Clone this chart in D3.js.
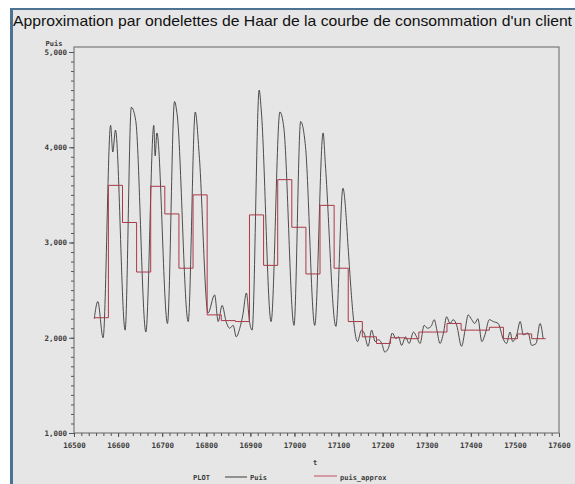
<!DOCTYPE html>
<html>
<head>
<meta charset="utf-8">
<script src="https://cdn.jsdelivr.net/npm/d3@7"></script>
<style>
  body { margin: 0; background: #fff; }
  .tick text { font-family: "DejaVu Sans Mono", monospace; font-weight: bold; font-size: 7.5px; fill: #3c3c3c; }
  .tick line { stroke: #555; }
  .lbl { font-family: "DejaVu Sans Mono", monospace; font-weight: bold; font-size: 7px; fill: #3c3c3c; }
</style>
</head>
<body>
<div id="chart"></div>
<script>

// courbe de consommation (t, Puis)
var tPuis = [16546, 16554, 16566, 16583, 16588, 16594, 16616, 16630, 16640, 16663,
  16681, 16684, 16688, 16712, 16728, 16734, 16759, 16775, 16784, 16804,
  16819, 16827, 16836, 16845, 16853, 16861, 16868, 16876, 16883, 16891,
  16898, 16904, 16920, 16925, 16947, 16967, 16976, 16999, 17014, 17025,
  17046, 17065, 17070, 17094, 17110, 17118, 17121, 17143, 17152, 17158,
  17167, 17175, 17183, 17190, 17198, 17205, 17213, 17222, 17230, 17236,
  17243, 17252, 17260, 17270, 17277, 17285, 17294, 17302, 17310, 17317,
  17323, 17330, 17338, 17345, 17353, 17360, 17368, 17379, 17387, 17394,
  17402, 17409, 17416, 17425, 17432, 17442, 17451, 17462, 17474, 17481,
  17489, 17495, 17504, 17512, 17519, 17530, 17538, 17548, 17557, 17564];

var vPuis = [2200, 2380, 2000, 4230, 3950, 4180, 2080, 4420, 4280, 2060,
  4230, 3910, 4150, 2150, 4480, 4340, 2170, 4370, 3920, 2260,
  2450, 2170, 2340, 2170, 2100, 2130, 2010, 2100, 2240, 2470,
  2170, 2080, 4600, 4370, 2170, 4370, 4200, 2130, 4270, 4010,
  2130, 4150, 3830, 2120, 3570, 3220, 3000, 1960, 2080, 2050,
  1910, 2080, 1960, 1980, 1940, 1850, 1890, 2050, 1990, 2010,
  1920, 2010, 1940, 2060, 2010, 1940, 2130, 2100, 2120, 2190,
  2080, 1940, 2050, 2220, 2150, 2190, 2130, 1910, 2080, 2240,
  2190, 2150, 2200, 1960, 2030, 2190, 2170, 2150, 1980, 1940,
  2060, 1960, 2030, 2170, 2030, 2050, 1920, 1940, 2150, 1990];

// approximation de Haar (paliers)
var tApprox = [16546, 16578, 16610, 16642, 16674, 16706, 16738, 16770, 16802, 16834,
  16866, 16898, 16930, 16962, 16994, 17026, 17058, 17090, 17122, 17154,
  17186, 17218, 17250, 17282, 17314, 17346, 17378, 17410, 17442, 17474,
  17506, 17538, 17570];

var vApprox = [2210, 3600, 3210, 2690, 3590, 3300, 2730, 3500, 2240, 2180,
  2170, 3290, 2760, 3660, 3160, 2670, 3390, 2730, 2170, 2010,
  1940, 2000, 1990, 2060, 2060, 2150, 2080, 2080, 2110, 1990,
  2040, 1990, 1990];

var xTicks = [16500, 16600, 16700, 16800, 16900, 17000, 17100, 17200, 17300, 17400, 17500, 17600];
var yTicks = [1000, 2000, 3000, 4000, 5000];

var width = 575, height = 484;

var x = d3.scaleLinear().domain([16500, 17600]).range([74, 559]);
var y = d3.scaleLinear().domain([1000, 5000]).range([433, 52]);

var svg = d3.select("#chart")
  .append("svg")
  .attr("width", width)
  .attr("height", height);

// fond + bordure bleue
svg.append("rect").attr("x", 10).attr("y", 8).attr("width", width - 10).attr("height", height - 8).attr("fill", "#e6e6e6");
svg.append("rect").attr("x", 10).attr("y", 8).attr("width", width - 10).attr("height", 2).attr("fill", "#4d7394");
svg.append("rect").attr("x", 10).attr("y", 8).attr("width", 3).attr("height", height - 8).attr("fill", "#4d7394");

svg.append("text")
  .attr("x", 13)
  .attr("y", 26)
  .attr("textLength", 559)
  .attr("lengthAdjust", "spacingAndGlyphs")
  .style("font-family", "Liberation Sans, Arial, sans-serif")
  .style("font-size", "15px")
  .style("fill", "#111")
  .text("Approximation par ondelettes de Haar de la courbe de consommation d'un client");

// cadre
svg.append("rect")
  .attr("x", 74).attr("y", 47)
  .attr("width", 559 - 74).attr("height", 433 - 47)
  .attr("fill", "none")
  .attr("stroke", "#7a7a7a")
  .attr("stroke-width", 1.2);

// axes
var yMinor = svg.append("g").attr("transform", "translate(74,0)")
  .call(d3.axisLeft(y).tickValues(d3.range(1000, 5001, 100)).tickSize(3).tickFormat(""));
var yAxis = svg.append("g").attr("transform", "translate(74,0)")
  .call(d3.axisLeft(y).tickValues(yTicks).tickSize(5).tickPadding(2).tickFormat(d3.format(",")));

var xMinor = svg.append("g").attr("transform", "translate(0,433)")
  .call(d3.axisBottom(x).tickValues(d3.range(16500, 17601, 100 / 6)).tickSize(3).tickFormat(""));
var xAxis = svg.append("g").attr("transform", "translate(0,433)")
  .call(d3.axisBottom(x).tickValues(xTicks).tickSize(4).tickPadding(6).tickFormat(d3.format("d")));

svg.selectAll(".domain").remove();

svg.append("text").attr("class", "lbl").attr("x", 54).attr("y", 46).attr("text-anchor", "middle").text("Puis");
svg.append("text").attr("class", "lbl").attr("x", 315).attr("y", 465).attr("text-anchor", "middle").text("t");

// courbes
var linePuis = d3.line()
  .x(function(d, i) { return x(tPuis[i]); })
  .y(function(d) { return y(d); })
  .curve(d3.curveMonotoneX);

svg.append("path")
  .datum(vPuis)
  .attr("d", linePuis)
  .attr("fill", "none")
  .attr("stroke", "#3a3a3a")
  .attr("stroke-width", 0.9);

var lineApprox = d3.line()
  .x(function(d, i) { return x(tApprox[i]); })
  .y(function(d) { return y(d); })
  .curve(d3.curveStepAfter);

svg.append("path")
  .datum(vApprox)
  .attr("d", lineApprox)
  .attr("fill", "none")
  .attr("stroke", "#a83a48")
  .attr("stroke-width", 1);

// legende
var leg = svg.append("g");
leg.append("text").attr("class", "lbl").attr("x", 193).attr("y", 480).text("PLOT");
leg.append("line").attr("x1", 225).attr("x2", 247).attr("y1", 477).attr("y2", 477).attr("stroke", "#3a3a3a");
leg.append("text").attr("class", "lbl").attr("x", 250).attr("y", 480).text("Puis");
leg.append("line").attr("x1", 314).attr("x2", 337).attr("y1", 476).attr("y2", 476).attr("stroke", "#c05060");
leg.append("text").attr("class", "lbl").attr("x", 340).attr("y", 480).text("puis_approx");

</script>
</body>
</html>
